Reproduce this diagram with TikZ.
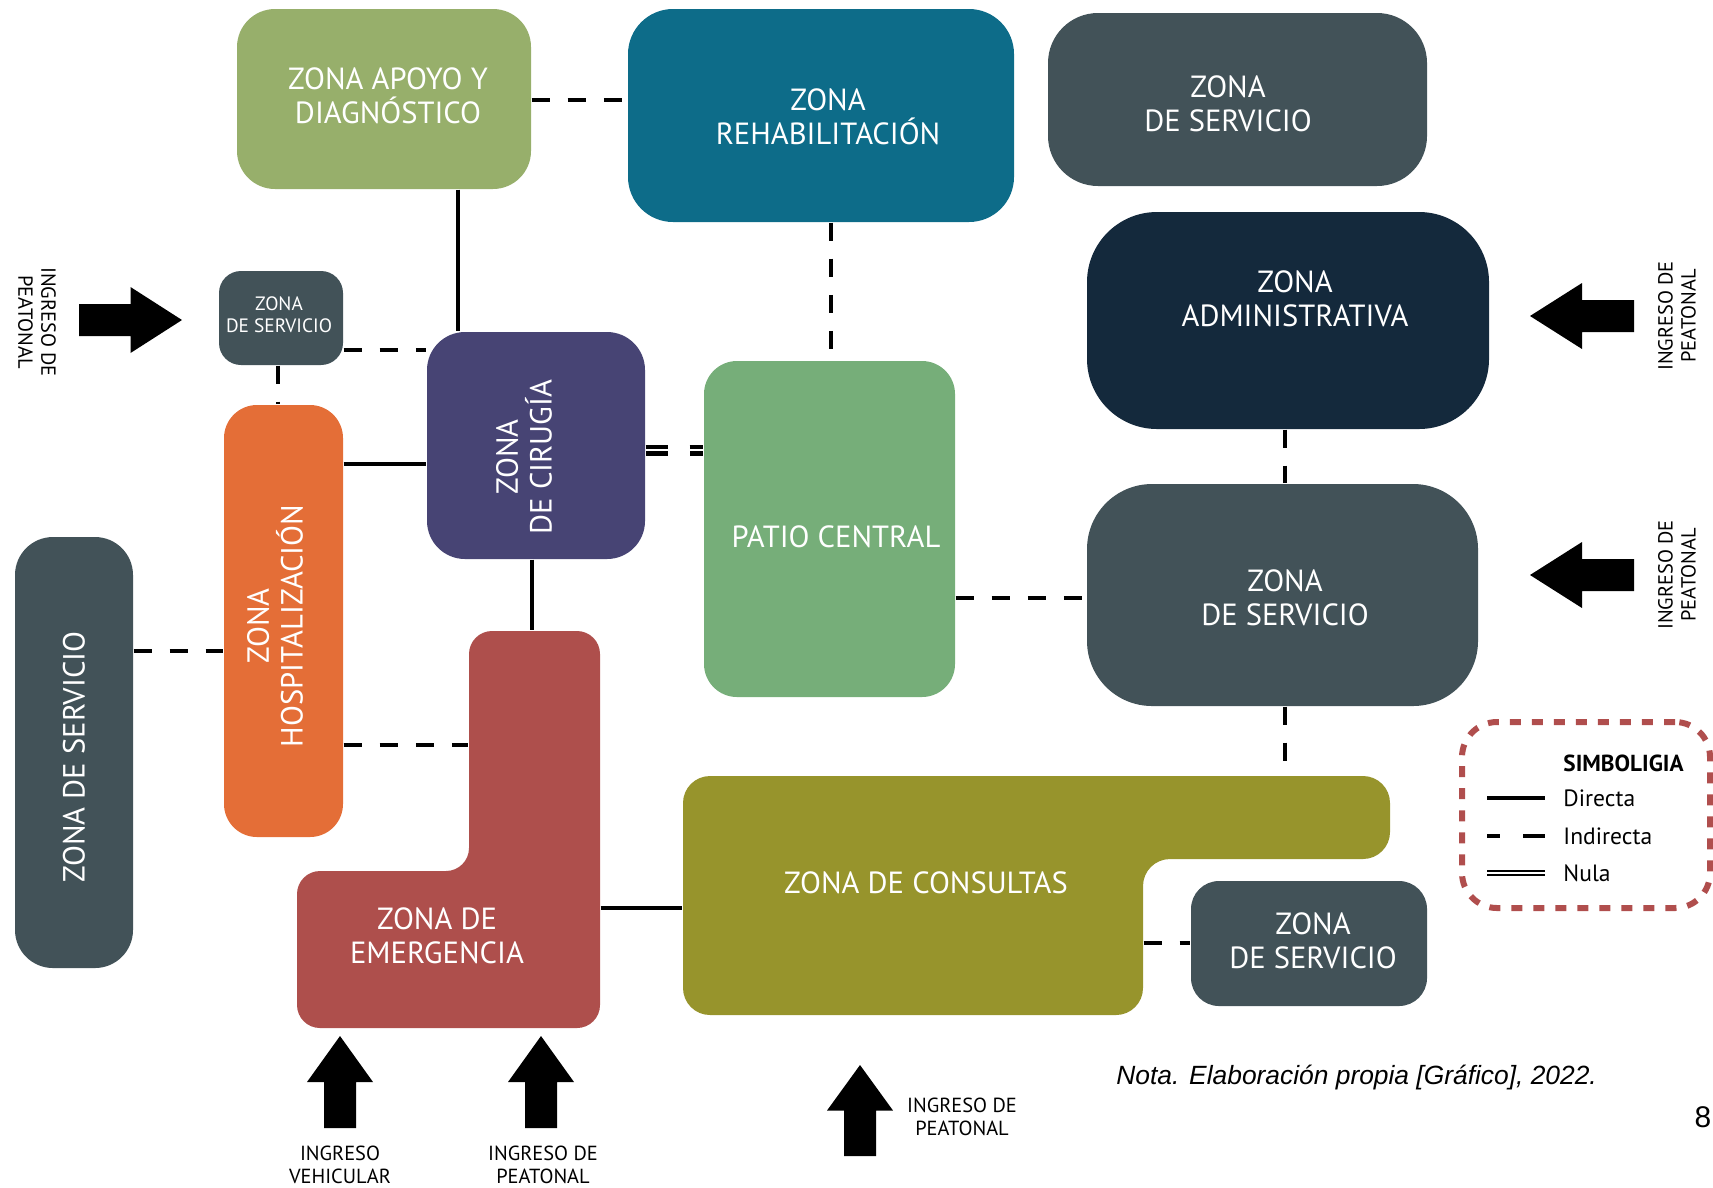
\documentclass[tikz,border=0pt]{standalone}
\usepackage{fontspec}
\setmainfont{PT Sans}
\newfontfamily\notafont{Liberation Sans}
\usetikzlibrary{fit}

\definecolor{apoyoc}{HTML}{97AF6B}
\definecolor{rehabc}{HTML}{0D6C89}
\definecolor{servc}{HTML}{425258}
\definecolor{adminc}{HTML}{14293C}
\definecolor{patioc}{HTML}{76AE79}
\definecolor{circ}{HTML}{474474}
\definecolor{hospc}{HTML}{E46E37}
\definecolor{emerc}{HTML}{AE4F4C}
\definecolor{consc}{HTML}{97942C}
\definecolor{simbc}{HTML}{B04E4D}

\tikzset{
  pics/ingreso/.style = {
    code = {
      \fill (0,-16) -- ({#1/2},-16) -- ({#1/2},-33) -- (#1,0)
        -- ({#1/2},33) -- ({#1/2},16) -- (0,16) -- cycle;
    }
  }
}

\begin{document}
\begin{tikzpicture}[
    x=0.01cm, y=-0.01cm,
    zona/.style = {
      fill=#1,
      inner sep=0pt,
      rounded corners=0.38cm
    },
    ztext/.style = {
      text=white,
      align=center,
      font=\fontsize{8.7}{9.6}\selectfont
    },
    itext/.style = {
      align=center,
      font=\fontsize{5.8}{6.5}\selectfont
    },
    directa/.style = {line width=0.042cm},
    indirecta/.style = {line width=0.042cm, dash pattern=on 0.18cm off 0.18cm},
    nula/.style = {line width=0.045cm, double, double distance=0.02cm,
      dash pattern=on 0.22cm off 0.22cm}
  ]
  \useasboundingbox (0,0) rectangle (1713,1187);

  % zonas
  \node[zona=apoyoc, fit={(237,9) (531,189)}] (apoyo) {};
  \node[zona=rehabc, rounded corners=0.45cm, fit={(628,9) (1014,222)}] (rehab) {};
  \node[zona=servc, rounded corners=0.5cm, fit={(1048,13) (1427,186)}] (servA) {};
  \node[zona=adminc, rounded corners=0.7cm, fit={(1087,212) (1489,429)}] (admin) {};
  \node[zona=servc, rounded corners=0.65cm, fit={(1087,484) (1478,706)}] (servB) {};
  \node[zona=patioc, rounded corners=0.33cm, fit={(704,361) (955,697)}] (patio) {};
  \node[zona=circ, fit={(427,332) (645,559)}] (cir) {};
  \node[zona=servc, rounded corners=0.22cm, fit={(219,271) (343,365)}] (servC) {};
  \node[zona=hospc, rounded corners=0.33cm, fit={(224,405) (343,837)}] (hosp) {};
  \node[zona=servc, fit={(15,537) (133,968)}] (servD) {};
  \node[zona=servc, rounded corners=0.28cm, fit={(1191,881) (1427,1006)}] (servE) {};

  % emergencia y consultas
  \fill[emerc, rounded corners=0.23cm] (469,631) -- (600,631) -- (600,1028)
    -- (297,1028) -- (297,871) -- (469,871) -- cycle;
  \node[fit={(469,631) (600,1028)}, inner sep=0pt] (emer) {};
  \fill[consc, rounded corners=0.27cm] (683,776) -- (1390,776) -- (1390,859)
    -- (1143,859) -- (1143,1015) -- (683,1015) -- cycle;
  \node[fit={(683,776) (1143,1015)}, inner sep=0pt] (cons) {};
  \node[fit={(683,776) (1390,859)}, inner sep=0pt] (consArm) {};

  \node[ztext] (apoyoT) at (388,96) {ZONA APOYO Y\\DIAGNÓSTICO};
  \node[ztext] (rehabT) at (828,117) {ZONA\\REHABILITACIÓN};
  \node[ztext] (servAT) at (1228,104) {ZONA\\DE SERVICIO};
  \node[ztext] (adminT) at (1295,299) {ZONA\\ADMINISTRATIVA};
  \node[ztext] (servBT) at (1285,598) {ZONA\\DE SERVICIO};
  \node[ztext] (patioT) at (836,537) {PATIO CENTRAL};
  \node[ztext, rotate=90] (cirT) at (524,457) {ZONA\\DE CIRUGÍA};
  \node[ztext, font=\fontsize{5.5}{6.3}\selectfont] (servCT) at (279,315) {ZONA\\DE SERVICIO};
  \node[ztext, rotate=90] (hospT) at (275,626) {ZONA\\HOSPITALIZACIÓN};
  \node[ztext, rotate=90] (servDT) at (74,757) {ZONA DE SERVICIO};
  \node[ztext] (emerT) at (437,936) {ZONA DE\\EMERGENCIA};
  \node[ztext] (consT) at (926,883) {ZONA DE CONSULTAS};
  \node[ztext] (servET) at (1313,941) {ZONA\\DE SERVICIO};

  % relaciones
  \draw[indirecta] (apoyo.east |- 0,100) -- (rehab.west |- 0,100);
  \draw[directa] (apoyo.south -| 458,0) -- (cir.north -| 458,0);
  \draw[indirecta] (servC.east |- 0,350) -- (cir.west |- 0,350);
  \draw[indirecta] (servC.south -| 278,0) -- (hosp.north -| 278,0);
  \draw[directa] (hosp.east |- 0,464) -- (cir.west |- 0,464);
  \draw[nula] (cir.east |- 0,450) -- (patio.west |- 0,450);
  \draw[indirecta] (rehab.south -| 831,0) -- (patio.north -| 831,0);
  \draw[indirecta] (patio.east |- 0,598) -- (servB.west |- 0,598);
  \draw[indirecta] (admin.south -| 1285,0) -- (servB.north -| 1285,0);
  \draw[indirecta] (servB.south -| 1285,0) -- (consArm.north -| 1285,0);
  \draw[indirecta] (servD.east |- 0,651) -- (hosp.west |- 0,651);
  \draw[indirecta] (hosp.east |- 0,745) -- (emer.west |- 0,745);
  \draw[directa] (cir.south -| 532,0) -- (emer.north -| 532,0);
  \draw[directa] (emer.east |- 0,908) -- (cons.west |- 0,908);
  \draw[indirecta] (cons.east |- 0,943) -- (servE.west |- 0,943);

  % ingresos
  \pic at (79,320) {ingreso=103};
  \pic[rotate=180] at (1634,316) {ingreso=104};
  \pic[rotate=180] at (1634,575) {ingreso=104};
  \pic[rotate=90] at (340,1128) {ingreso=92};
  \pic[rotate=90] at (541,1128) {ingreso=92};
  \pic[rotate=90] at (860,1156) {ingreso=91};
  \node[itext, rotate=-90] (ingA) at (37,322) {INGRESO DE\\PEATONAL};
  \node[itext, rotate=90] (ingB) at (1677,316) {INGRESO DE\\PEATONAL};
  \node[itext, rotate=90] (ingC) at (1677,575) {INGRESO DE\\PEATONAL};
  \node[itext] (ingD) at (340,1165) {INGRESO\\VEHICULAR};
  \node[itext] (ingE) at (543,1165) {INGRESO DE\\PEATONAL};
  \node[itext] (ingF) at (962,1117) {INGRESO DE\\PEATONAL};

  % simbologia
  \node[fit={(1462,722) (1710,908)}, inner sep=0pt, draw=simbc, line width=0.06cm,
    dash pattern=on 0.11cm off 0.11cm, rounded corners=0.35cm] (simb) {};
  \node[anchor=west, font=\bfseries\fontsize{6.6}{8}\selectfont] (simbT) at (1551,763) {SIMBOLIGIA};
  \node[anchor=west, font=\fontsize{6.7}{8}\selectfont] (leg1) at (1551,798) {Directa};
  \node[anchor=west, font=\fontsize{6.7}{8}\selectfont] (leg2) at (1551,836) {Indirecta};
  \node[anchor=west, font=\fontsize{6.7}{8}\selectfont] (leg3) at (1551,873) {Nula};
  \draw[directa] (1487,798) -- (1545,798);
  \draw[line width=0.042cm, dash pattern=on 0.13cm off 0.23cm on 0.22cm off 0.1cm]
    (1487,836) -- (1545,836);
  \draw[line width=0.025cm, double, double distance=0.015cm] (1487,873) -- (1545,873);

  \node[anchor=west, font=\notafont\itshape\fontsize{7.5}{9}\selectfont] (nota)
    at (1104,1077) {Nota. Elaboración propia [Gráfico], 2022.};
  \node[anchor=east, inner sep=0pt, font=\notafont\fontsize{8.5}{9}\selectfont] (pagina)
    at (1712,1117) {8};
\end{tikzpicture}
\end{document}
